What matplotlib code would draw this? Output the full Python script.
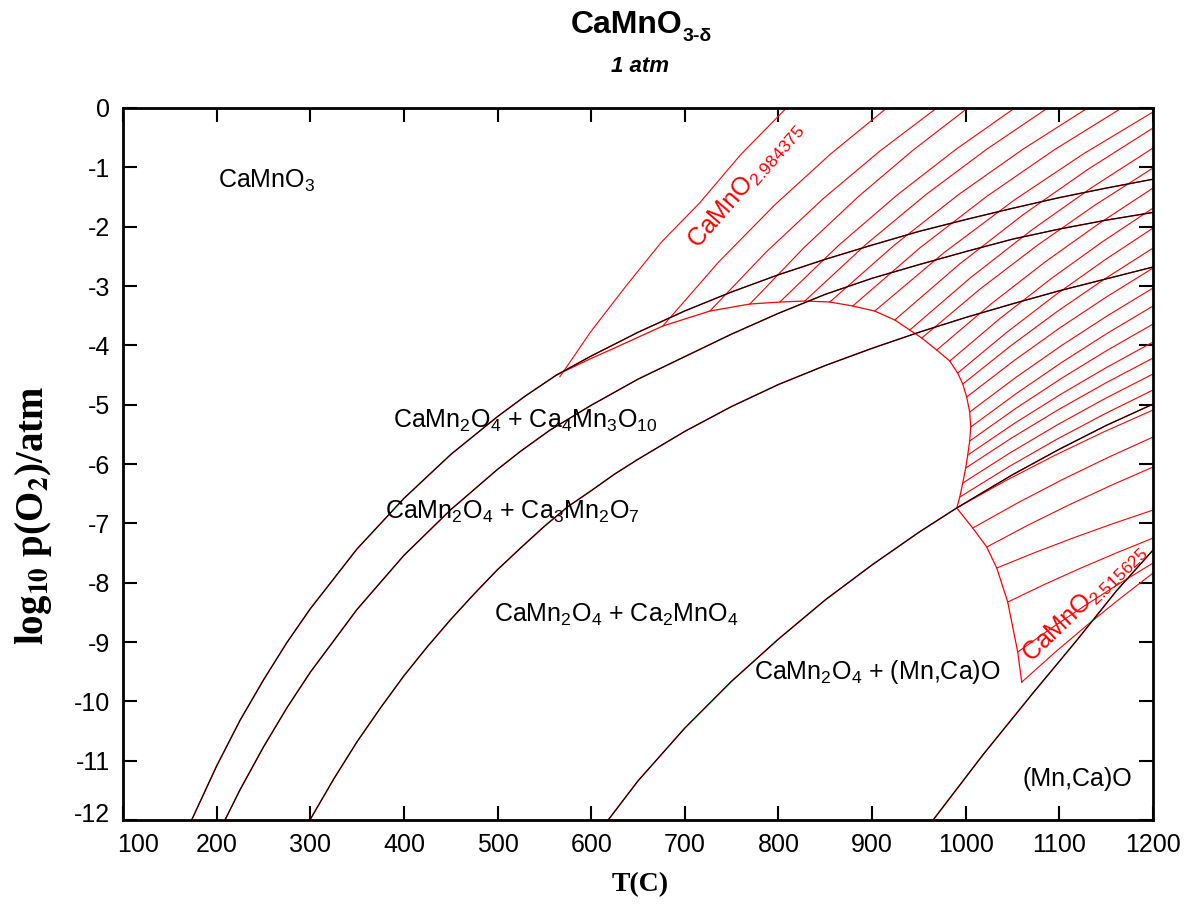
import matplotlib
matplotlib.use('Agg')
import matplotlib.pyplot as plt
from matplotlib.transforms import ScaledTranslation

# fonts: arial-like everywhere, serif only for the axis titles
plt.rcParams['font.family'] = ['Liberation Sans', 'DejaVu Sans']
plt.rcParams['mathtext.fontset'] = 'custom'
plt.rcParams['mathtext.rm'] = 'Liberation Sans'
plt.rcParams['mathtext.it'] = 'Liberation Sans:italic'
plt.rcParams['mathtext.bf'] = 'Liberation Sans:bold'
plt.rcParams['axes.unicode_minus'] = False

# black phase boundaries, T in C and log10 p(O2)
b1_t = [173.3, 200, 225, 250, 275, 300, 350, 400, 450, 500, 530, 563, 600, 650, 700, 750, 800, 850, 900, 950,
        1000, 1050, 1100, 1150, 1200]
b1_p = [-12.0, -11.09, -10.32, -9.64, -9.01, -8.44, -7.43, -6.58, -5.84, -5.20, -4.85, -4.50, -4.18, -3.78, -3.42,
        -3.10, -2.81, -2.55, -2.31, -2.08, -1.88, -1.69, -1.51, -1.35, -1.20]
b2_t = [208.9, 225, 250, 275, 300, 350, 400, 450, 500, 525, 555.9, 600, 650, 700, 750, 800, 850, 900, 950, 1000,
        1050, 1100, 1150, 1200]
b2_p = [-12.0, -11.49, -10.77, -10.11, -9.51, -8.45, -7.54, -6.77, -6.09, -5.78, -5.43, -5.01, -4.57, -4.19, -3.81,
        -3.46, -3.14, -2.87, -2.64, -2.42, -2.21, -2.04, -1.89, -1.76]
b3_t = [299.6, 325, 350, 375, 400, 425, 450, 475, 500, 525, 550, 575, 600, 625, 650, 700, 750, 800, 850, 900, 950,
        1000, 1050, 1100, 1150, 1200]
b3_p = [-12.0, -11.31, -10.68, -10.11, -9.57, -9.08, -8.62, -8.19, -7.78, -7.41, -7.05, -6.72, -6.45, -6.17, -5.92,
        -5.45, -5.03, -4.66, -4.34, -4.05, -3.78, -3.53, -3.30, -3.08, -2.88, -2.68]
b4_t = [618.1, 650, 700, 750, 800, 850, 900, 950, 990.4, 1050, 1100, 1150, 1200]
b4_p = [-12.0, -11.34, -10.45, -9.66, -8.95, -8.29, -7.70, -7.15, -6.74, -6.18, -5.75, -5.35, -4.99]
b5_t = [965.1, 1018.4, 1071.8, 1118.1, 1160.8, 1200.0]
b5_p = [-12.0, -10.90, -9.86, -8.98, -8.14, -7.45]
black_t = [b1_t, b2_t, b3_t, b4_t, b5_t]
black_p = [b1_p, b2_p, b3_p, b4_p, b5_p]

# red outline of the CaMnO3-d field
dome_t = [563.0, 600, 627.0, 676.5, 726.7, 769.4, 801.4, 828.1, 854.8, 879.3, 902.8, 924.2, 940.2, 953.0, 969.0,
          982.9, 991.4, 996.8, 1001.0, 1004.2, 1005.3, 1004.2, 1002.1, 999.9, 996.8, 993.6, 990.4]
dome_p = [-4.50, -4.22, -4.03, -3.674, -3.422, -3.304, -3.270, -3.253, -3.270, -3.337, -3.422, -3.573, -3.742,
          -3.877, -4.079, -4.264, -4.467, -4.652, -4.871, -5.124, -5.377, -5.613, -5.849, -6.068, -6.321, -6.557,
          -6.742]
low_t = [990.4, 1007.4, 1022.4, 1033.1, 1044.8, 1055.5, 1059.8]
low_p = [-6.742, -7.079, -7.399, -7.753, -8.326, -9.169, -9.675]

# isopleths of constant delta
iso_t = [
    [566.5, 600, 637.7, 675, 715.8, 760, 808.5],
    [676.5, 736.3, 796.1, 855.8, 915.6],
    [726.7, 787.3, 847.9, 908.4, 969.0],
    [769.4, 827.6, 885.8, 943.9, 1002.1],
    [801.4, 864.1, 926.9, 989.6, 1052.3],
    [828.1, 893.0, 957.8, 1022.7, 1087.5],
    [854.8, 923.7, 992.5, 1061.4, 1130.2],
    [879.3, 951.1, 1022.9, 1094.7, 1166.5],
    [902.8, 977.1, 1051.4, 1125.7, 1200],
    [924.2, 993.2, 1062.1, 1131.1, 1200],
    [940.2, 1005.2, 1070.1, 1135.1, 1200],
    [953.0, 1014.8, 1076.5, 1138.3, 1200],
    [969.0, 1026.8, 1084.5, 1142.3, 1200],
    [982.9, 1037.2, 1091.5, 1145.7, 1200],
    [991.4, 1043.6, 1095.7, 1147.9, 1200],
    [996.8, 1047.6, 1098.4, 1149.2, 1200],
    [1001.0, 1050.8, 1100.5, 1150.3, 1200],
    [1004.2, 1053.2, 1102.1, 1151.1, 1200],
    [1005.3, 1054.0, 1102.7, 1151.3, 1200],
    [1004.2, 1053.2, 1102.1, 1151.1, 1200],
    [1002.1, 1051.6, 1101.1, 1150.5, 1200],
    [999.9, 1049.9, 1100.0, 1150.0, 1200],
    [996.8, 1047.6, 1098.4, 1149.2, 1200],
    [993.6, 1045.2, 1096.8, 1148.4, 1200],
    [990.4, 1042.8, 1095.2, 1147.6, 1200],
    [1007.4, 1055.6, 1103.7, 1151.9, 1200],
    [1022.4, 1066.8, 1111.2, 1155.6, 1200],
    [1033.1, 1074.8, 1116.6, 1158.3, 1200],
    [1044.8, 1083.6, 1122.4, 1161.2, 1200],
    [1055.5, 1091.6, 1127.8, 1163.9, 1200],
    [1059.8, 1094.9, 1129.9, 1165.0, 1200],
]
iso_p = [
    [-4.53, -3.76, -2.99, -2.26, -1.60, -0.78, 0.0],
    [-3.674, -2.592, -1.632, -0.773, 0.0],
    [-3.422, -2.420, -1.526, -0.724, 0.0],
    [-3.304, -2.347, -1.486, -0.708, 0.0],
    [-3.270, -2.317, -1.464, -0.696, 0.0],
    [-3.253, -2.304, -1.455, -0.691, 0.0],
    [-3.270, -2.311, -1.457, -0.691, 0.0],
    [-3.337, -2.356, -1.484, -0.703, 0.0],
    [-3.422, -2.434, -1.556, -0.772, -0.067],
    [-3.573, -2.632, -1.788, -1.027, -0.337],
    [-3.742, -2.858, -2.060, -1.335, -0.674],
    [-3.877, -3.057, -2.313, -1.633, -1.011],
    [-4.079, -3.305, -2.597, -1.947, -1.348],
    [-4.264, -3.539, -2.872, -2.257, -1.686],
    [-4.467, -3.783, -3.152, -2.567, -2.023],
    [-4.652, -4.013, -3.421, -2.872, -2.360],
    [-4.871, -4.266, -3.705, -3.184, -2.697],
    [-5.124, -4.544, -4.005, -3.503, -3.034],
    [-5.377, -4.811, -4.285, -3.795, -3.337],
    [-5.613, -5.065, -4.557, -4.083, -3.641],
    [-5.849, -5.319, -4.828, -4.371, -3.944],
    [-6.068, -5.552, -5.074, -4.629, -4.214],
    [-6.321, -5.809, -5.334, -4.893, -4.483],
    [-6.557, -6.053, -5.587, -5.155, -4.753],
    [-6.742, -6.280, -5.853, -5.457, -5.090],
    [-7.079, -6.654, -6.258, -5.890, -5.545],
    [-7.399, -7.028, -6.682, -6.357, -6.051],
    [-7.753, -7.486, -7.235, -6.999, -6.776],
    [-8.326, -8.033, -7.757, -7.496, -7.248],
    [-9.169, -8.764, -8.380, -8.016, -7.669],
    [-9.675, -9.180, -8.711, -8.264, -7.838],
]

x_ticks = list(range(100, 1201, 100))
y_ticks = list(range(-12, 1))

fig = plt.figure(figsize=(11.94, 9.06), dpi=100)
ax = fig.add_axes([0.1030, 0.0949, 0.8627, 0.7859])

red = '#ff0000'
for t, p in zip(iso_t, iso_p):
    ax.plot(t, p, color=red, lw=0.8)
ax.plot(dome_t, dome_p, color=red, lw=0.9)
ax.plot(low_t, low_p, color=red, lw=0.9)
# red calc lines sit under the black ones
for t, p in zip(black_t, black_p):
    ax.plot(t, p, color=red, lw=1.0)
    ax.plot(t, p, color='black', lw=0.8)

# phase labels
fs = 18
ax.text(201.8, -1.337, 'CaMnO$_3$', fontsize=fs, ha='left', va='baseline')
ax.text(388.2, -5.394, 'CaMn$_2$O$_4$ + Ca$_4$Mn$_3$O$_{10}$', fontsize=fs, ha='left', va='baseline')
ax.text(379.7, -6.92, 'CaMn$_2$O$_4$ + Ca$_3$Mn$_2$O$_7$', fontsize=fs, ha='left', va='baseline')
ax.text(496.1, -8.66, 'CaMn$_2$O$_4$ + Ca$_2$MnO$_4$', fontsize=fs, ha='left', va='baseline')
ax.text(773.6, -9.63, 'CaMn$_2$O$_4$ + (Mn,Ca)O', fontsize=fs, ha='left', va='baseline')
ax.text(1060.5, -11.43, '(Mn,Ca)O', fontsize=fs, ha='left', va='baseline')
ax.text(714.2, -2.393, 'CaMnO$_{2.984375}$', fontsize=fs, color=red, rotation=49,
        rotation_mode='anchor', ha='left', va='baseline')
ax.text(1070.1, -9.36, 'CaMnO$_{2.515625}$', fontsize=fs, color=red, rotation=44,
        rotation_mode='anchor', ha='left', va='baseline')

ax.set_xlim(100, 1200)
ax.set_ylim(-12, 0)
ax.set_xticks(x_ticks)
ax.set_yticks(y_ticks)
ax.tick_params(direction='in', length=10, width=1.5, top=True, right=True, labelsize=18, pad=9)
for s in ax.spines.values():
    s.set_linewidth(2)

# corner labels are nudged apart like in the original
xl = ax.get_xticklabels()[0]
xl.set_transform(xl.get_transform() + ScaledTranslation(0.15, 0, fig.dpi_scale_trans))
yl = ax.get_yticklabels()[0]
yl.set_transform(yl.get_transform() + ScaledTranslation(0, 0.08, fig.dpi_scale_trans))

# titles (subscript done by hand so the hyphen stays a hyphen)
fig.text(683 / 1194, 1 - 33 / 906, 'CaMnO', ha='right', va='baseline', fontsize=23, fontweight='bold')
fig.text(683 / 1194, 1 - 41 / 906, '3-\u03b4', ha='left', va='baseline', fontsize=14, fontweight='bold')
fig.text(640 / 1194, 1 - 72 / 906, '1 atm', ha='center', va='baseline', fontsize=16,
         fontweight='bold', style='italic')

fig.text(640 / 1194, 1 - 885 / 906, 'T(C)', ha='center', va='center', fontsize=20,
         fontweight='bold', family='Liberation Serif')
fig.text(34 / 1194, 1 - 515 / 906, r'log$_{\mathbf{10}}$ p(O$_{\mathbf{2}}$)/atm', rotation=90,
         ha='center', va='center', fontsize=28, fontweight='bold', family='Liberation Serif',
         math_fontfamily='stix')

fig.savefig('out.png', dpi=100)
